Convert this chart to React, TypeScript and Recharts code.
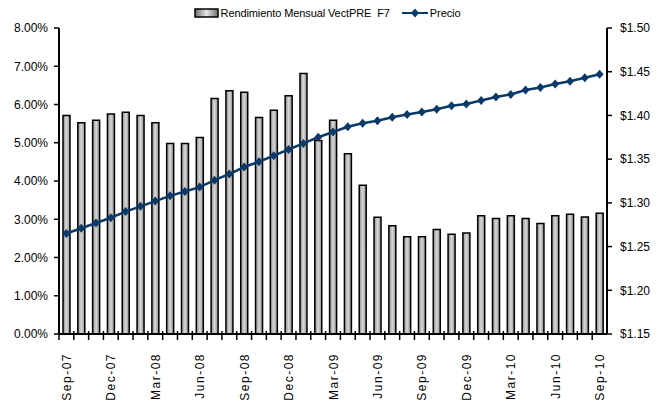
import { ComposedChart, Bar, Line, XAxis, YAxis, Legend } from 'recharts';

const months = [
  'Sep-07', 'Oct-07', 'Nov-07', 'Dec-07', 'Jan-08', 'Feb-08', 'Mar-08', 'Apr-08', 'May-08', 'Jun-08',
  'Jul-08', 'Aug-08', 'Sep-08', 'Oct-08', 'Nov-08', 'Dec-08', 'Jan-09', 'Feb-09', 'Mar-09', 'Apr-09',
  'May-09', 'Jun-09', 'Jul-09', 'Aug-09', 'Sep-09', 'Oct-09', 'Nov-09', 'Dec-09', 'Jan-10', 'Feb-10',
  'Mar-10', 'Apr-10', 'May-10', 'Jun-10', 'Jul-10', 'Aug-10', 'Sep-10',
];

// rendimiento mensual, in %
const rendimiento = [
  5.71, 5.52, 5.59, 5.75, 5.8, 5.71, 5.52, 4.98, 4.98, 5.14,
  6.16, 6.36, 6.32, 5.66, 5.85, 6.23, 6.81, 5.06, 5.59, 4.71,
  3.89, 3.05, 2.83, 2.54, 2.54, 2.73, 2.61, 2.64, 3.09, 3.02,
  3.09, 3.02, 2.89, 3.09, 3.13, 3.06, 3.16,
];

const precio = [
  1.265, 1.271, 1.277, 1.283, 1.29, 1.296, 1.302, 1.308, 1.313, 1.318,
  1.326, 1.333, 1.341, 1.347, 1.354, 1.361, 1.368, 1.375, 1.381, 1.387,
  1.391, 1.394, 1.398, 1.401, 1.404, 1.407, 1.411, 1.413, 1.417, 1.421,
  1.424, 1.429, 1.432, 1.436, 1.439, 1.443, 1.447,
];

const pctTicks = [0, 1, 2, 3, 4, 5, 6, 7, 8];
const priceTicks = [1.15, 1.2, 1.25, 1.3, 1.35, 1.4, 1.45, 1.5];

const data = months.map((m, i) => ({ month: m, rendimiento: rendimiento[i], precio: precio[i] }));

const W = 658;
const H = 402;
const LEFT_W = 59;
const RIGHT_W = 51;
const BAND = (W - LEFT_W - RIGHT_W) / months.length;
const NAVY = '#0b3a6a';
const FONT = '"Liberation Sans", Arial, sans-serif';

const XTick = (props: any) => {
  const { x, y, index, payload } = props;
  return (
    <g>
      <line x1={x - BAND / 2} x2={x - BAND / 2} y1={y - 3} y2={y + 6} stroke="#000" strokeWidth={1.5} />
      {index % 3 === 0 && (
        <text
          transform={`translate(${x + 4.5},${y + 19}) rotate(-90)`}
          textAnchor="end"
          fontSize={12}
          letterSpacing={1.5}
          fill="#000"
          fontFamily={FONT}
        >
          {payload.value}
        </text>
      )}
    </g>
  );
};

const Diamond = (props: any) => {
  const { cx, cy, index } = props;
  if (cx == null || cy == null) return <g key={index} />;
  return <path key={index} d={`M${cx},${cy - 4.5}L${cx + 4},${cy}L${cx},${cy + 4.5}L${cx - 4},${cy}Z`} fill={NAVY} />;
};

const LegendBox = () => (
  <div
    style={{
      height: 18,
      display: 'flex',
      alignItems: 'center',
      justifyContent: 'center',
      fontFamily: FONT,
      fontSize: 11,
      letterSpacing: -0.1,
      color: '#000',
      paddingRight: 4,
    }}
  >
    <svg width={25} height={10} style={{ marginRight: 2 }}>
      <defs>
        <linearGradient id="lgGrad" x1="0" y1="0" x2="1" y2="0">
          <stop offset="0%" stopColor="#6e6e6e" />
          <stop offset="50%" stopColor="#e6e6e6" />
          <stop offset="100%" stopColor="#6e6e6e" />
        </linearGradient>
      </defs>
      <rect x={1} y={1} width={23} height={8} fill="url(#lgGrad)" stroke="#000" strokeWidth={1.5} />
    </svg>
    <span style={{ whiteSpace: 'pre' }}>Rendimiento Mensual VectPRE  F7</span>
    <svg width={26} height={10} style={{ marginLeft: 12, marginRight: 2 }}>
      <line x1={0} x2={26} y1={5} y2={5} stroke={NAVY} strokeWidth={2} />
      <path d="M13,0.5L17,5L13,9.5L9,5Z" fill={NAVY} />
    </svg>
    <span>Precio</span>
  </div>
);

export default function App() {
  return (
    <div style={{ position: 'fixed', left: 0, top: 0, width: W, height: H, background: '#fff' }}>
      <ComposedChart
        width={W}
        height={H}
        data={data}
        margin={{ top: 10, right: 0, bottom: 0, left: 0 }}
        barCategoryGap={0}
      >
        <defs>
          <linearGradient id="barGrad" x1="0" y1="0" x2="1" y2="0">
            <stop offset="0%" stopColor="#8c8c8c" />
            <stop offset="50%" stopColor="#d8d8d8" />
            <stop offset="100%" stopColor="#8c8c8c" />
          </linearGradient>
        </defs>
        <Legend verticalAlign="top" align="center" content={<LegendBox />} wrapperStyle={{ top: 4 }} />
        <XAxis
          dataKey="month"
          height={68}
          interval={0}
          tick={<XTick />}
          tickLine={false}
          tickSize={0}
          tickMargin={0}
          axisLine={{ stroke: '#000', strokeWidth: 2 }}
        />
        <YAxis
          yAxisId="left"
          orientation="left"
          width={LEFT_W}
          domain={[0, 8]}
          ticks={pctTicks}
          tickFormatter={(v: number) => `${v.toFixed(2)}%`}
          tick={{ fontSize: 12, fill: '#000', fontFamily: FONT }}
          tickSize={5}
          tickMargin={6}
          tickLine={{ stroke: '#000', strokeWidth: 1.5 }}
          axisLine={{ stroke: '#000', strokeWidth: 2 }}
        />
        <YAxis
          yAxisId="right"
          orientation="right"
          width={RIGHT_W}
          domain={[1.15, 1.5]}
          ticks={priceTicks}
          tickFormatter={(v: number) => `$${v.toFixed(2)}`}
          tick={{ fontSize: 12, fill: '#000', fontFamily: FONT }}
          tickSize={5}
          tickMargin={8}
          tickLine={{ stroke: '#000', strokeWidth: 1.5 }}
          axisLine={{ stroke: '#000', strokeWidth: 2 }}
        />
        <Bar
          yAxisId="left"
          dataKey="rendimiento"
          barSize={7}
          fill="url(#barGrad)"
          stroke="#000"
          strokeWidth={1.5}
          isAnimationActive={false}
        />
        <Line
          yAxisId="right"
          dataKey="precio"
          stroke={NAVY}
          strokeWidth={2.5}
          dot={<Diamond />}
          activeDot={false}
          isAnimationActive={false}
        />
      </ComposedChart>
    </div>
  );
}
